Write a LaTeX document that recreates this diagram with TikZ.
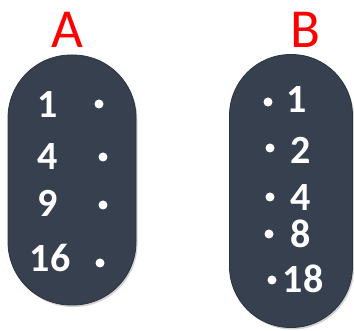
\documentclass[tikz,border=0pt]{standalone}
\usepackage{fontspec}
\setmainfont{Carlito}
\usetikzlibrary{shadows}
\definecolor{slate}{HTML}{36404F}
\definecolor{labelred}{HTML}{FF0000}

\begin{document}
\begin{tikzpicture}[x=1pt, y=-1pt,
    capsule/.style={fill=slate, draw=slate!80!black, line width=0.8pt, drop shadow={shadow xshift=1.5pt, shadow yshift=-2pt, opacity=0.35}},
    setlabel/.style={text=labelred, font=\fontsize{55}{55}\selectfont, inner sep=0pt},
    num/.style={text=white, font=\bfseries\fontsize{40}{40}\selectfont, inner sep=0pt, text height=25pt, text depth=0pt},
    pt/.style={circle, fill=white, minimum size=9pt, inner sep=0pt}]
    \useasboundingbox (0,0) rectangle (354,331);
    % the two sets
    \node [capsule, rounded corners=63pt, minimum width=128pt, minimum height=250pt] (capA) at (72,180) {};
    \node [capsule, rounded corners=61pt, minimum width=123pt, minimum height=273pt] (capB) at (291,191) {};
    \node [setlabel] (labA) at (67,30) {A};
    \node [setlabel] (labB) at (305,30) {B};
    % set A
    \node [num] (a1) at (48,105) {1};
    \node [num] (a4) at (48,157) {4};
    \node [num] (a9) at (48,204) {9};
    \node [num] (a16) at (50,259) {16};
    \node [pt] (pa1) at (99,104) {};
    \node [pt] (pa4) at (103,157) {};
    \node [pt] (pa9) at (103,205) {};
    \node [pt] (pa16) at (100,263) {};
    % set B
    \node [num] (b1) at (297,100) {1};
    \node [num] (b2) at (301,151) {2};
    \node [num] (b4) at (301,198) {4};
    \node [num] (b8) at (301,235) {8};
    \node [num] (b18) at (303,280) {18};
    \node [pt] (pb1) at (268,102) {};
    \node [pt] (pb2) at (270,148) {};
    \node [pt] (pb4) at (270,197) {};
    \node [pt] (pb8) at (269,234) {};
    \node [pt] (pb18) at (272,280) {};
\end{tikzpicture}
\end{document}
